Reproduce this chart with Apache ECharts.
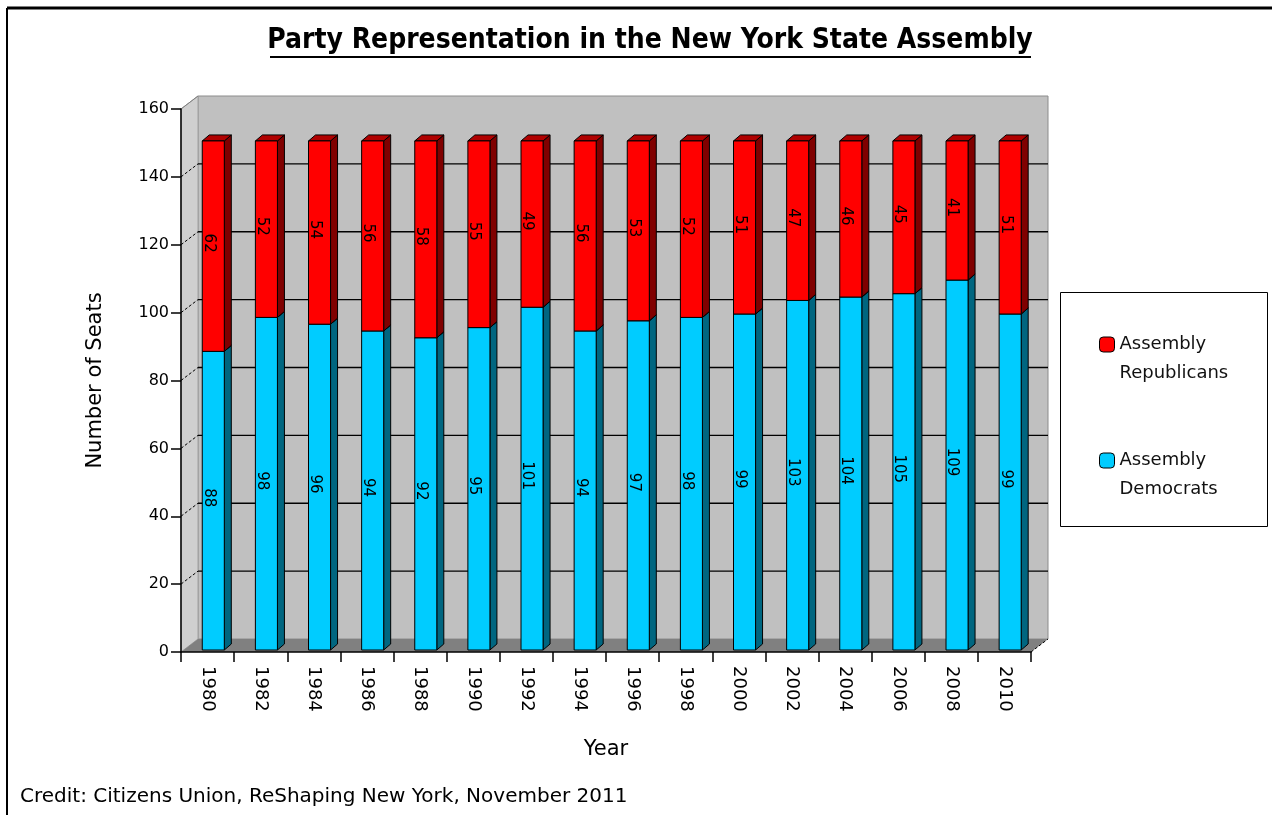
<!DOCTYPE html>
<html>
<head>
<meta charset="utf-8">
<title>Party Representation in the New York State Assembly</title>
<script src="https://cdn.jsdelivr.net/npm/echarts@6/dist/echarts.min.js"></script>
<style>
  html, body { margin: 0; padding: 0; background: #fff; }
  #chart { width: 1272px; height: 815px; }
</style>
</head>
<body>
<div id="chart"></div>
<script>
// Seats held after each election, 1980-2010
const years = ['1980','1982','1984','1986','1988','1990','1992','1994','1996','1998','2000','2002','2004','2006','2008','2010'];
const democrats   = [88, 98, 96, 94, 92, 95, 101, 94, 97, 98, 99, 103, 104, 105, 109, 99];
const republicans = [62, 52, 54, 56, 58, 55, 49, 56, 53, 52, 51, 47, 46, 45, 41, 51];
const yTicks = [0, 20, 40, 60, 80, 100, 120, 140, 160];

const FONT = '"DejaVu Sans", Verdana, sans-serif';
const FONT_NARROW = '"DejaVu Sans Condensed", "DejaVu Sans", sans-serif';

// pseudo-3D offsets
const WALL_DX = 17, WALL_DY = -13;   // back wall relative to the front axes
const BAR_DX = 7, BAR_DY = -6;       // bar depth
const BAR_LIFT = -2;

const chart = echarts.init(document.getElementById('chart'), null, { renderer: 'canvas' });

// walls, floor and gridlines of the chart box
function renderFrame(params, api) {
  const cs = params.coordSys;
  const x0 = cs.x, x1 = cs.x + cs.width;
  const yBot = api.coord([0, yTicks[0]])[1];
  const yTop = api.coord([0, yTicks[yTicks.length - 1]])[1];
  const children = [];
  // back wall
  children.push({ type: 'rect', shape: { x: x0 + WALL_DX, y: yTop + WALL_DY, width: x1 - x0, height: yBot - yTop },
    style: { fill: '#C0C0C0', stroke: '#8C8C8C', lineWidth: 1 } });
  // left wall
  children.push({ type: 'polygon', shape: { points: [[x0, yTop], [x0 + WALL_DX, yTop + WALL_DY], [x0 + WALL_DX, yBot + WALL_DY], [x0, yBot]] },
    style: { fill: '#CFCFCF', stroke: '#A0A0A0', lineWidth: 1 } });
  // floor
  children.push({ type: 'polygon', shape: { points: [[x0, yBot], [x0 + WALL_DX, yBot + WALL_DY], [x1 + WALL_DX, yBot + WALL_DY], [x1, yBot]] },
    style: { fill: '#808080' } });
  // gridlines on the back wall plus the slanted links on the side wall
  yTicks.slice(1, -1).forEach(function (v) {
    const y = api.coord([0, v])[1];
    children.push({ type: 'line', shape: { x1: x0 + WALL_DX, y1: y + WALL_DY, x2: x1 + WALL_DX, y2: y + WALL_DY },
      style: { stroke: '#000', lineWidth: 1.4 } });
    children.push({ type: 'line', shape: { x1: x0, y1: y, x2: x0 + WALL_DX, y2: y + WALL_DY },
      style: { stroke: '#000', lineWidth: 1, lineDash: [3, 2] } });
  });
  // top link of the side wall and right end of the floor
  children.push({ type: 'line', shape: { x1: x0, y1: yTop, x2: x0 + WALL_DX, y2: yTop + WALL_DY },
    style: { stroke: '#808080', lineWidth: 1 } });
  children.push({ type: 'line', shape: { x1: x1, y1: yBot, x2: x1 + WALL_DX, y2: yBot + WALL_DY },
    style: { stroke: '#000', lineWidth: 1, lineDash: [3, 2] } });
  return { type: 'group', children: children };
}

// one stacked block: front face, side face, top face and a rotated value label
function makeBarRenderer(front, side, top) {
  return function (params, api) {
    const i = api.value(0), base = api.value(1), val = api.value(2);
    const pBase = api.coord([i, base]);
    const pTop = api.coord([i, base + val]);
    const cw = api.size([1, 0])[0];
    const xl = pBase[0] - 0.1 * cw;
    const xr = xl + 0.415 * cw;
    const yb = pBase[1] + BAR_LIFT, yt = pTop[1] + BAR_LIFT;
    const edge = { stroke: '#000', lineWidth: 1 };
    return {
      type: 'group',
      children: [
        { type: 'polygon', shape: { points: [[xr, yb], [xr + BAR_DX, yb + BAR_DY], [xr + BAR_DX, yt + BAR_DY], [xr, yt]] },
          style: Object.assign({ fill: side }, edge) },
        { type: 'polygon', shape: { points: [[xl, yt], [xl + BAR_DX, yt + BAR_DY], [xr + BAR_DX, yt + BAR_DY], [xr, yt]] },
          style: Object.assign({ fill: top }, edge) },
        { type: 'rect', shape: { x: xl, y: yt, width: xr - xl, height: yb - yt },
          style: Object.assign({ fill: front }, edge) },
        { type: 'text', x: pBase[0] + 1, y: (yb + yt) / 2 - 3, rotation: -Math.PI / 2,
          style: { text: String(val), fill: '#000', font: '15px ' + FONT, align: 'center', verticalAlign: 'middle' } }
      ]
    };
  };
}

const demData = democrats.map(function (v, i) { return [i, 0, v]; });
const repData = republicans.map(function (v, i) { return [i, democrats[i], v]; });

chart.setOption({
  animation: false,
  backgroundColor: '#ffffff',
  grid: { left: 181, right: 241, top: 109, bottom: 163 },
  xAxis: {
    type: 'category',
    data: years,
    z: 5,
    name: 'Year',
    nameLocation: 'middle',
    nameGap: 87,
    nameTextStyle: { fontFamily: FONT, fontSize: 21, color: '#000' },
    axisLine: { lineStyle: { color: '#000', width: 1.5 } },
    axisTick: { show: true, alignWithLabel: false, length: 10, lineStyle: { color: '#000', width: 1.5 } },
    axisLabel: { rotate: -90, margin: 14, fontFamily: FONT, fontSize: 18, color: '#000', interval: 0 },
    splitLine: { show: false }
  },
  yAxis: {
    type: 'value',
    min: 0, max: 160, interval: 20,
    z: 5,
    name: 'Number of Seats',
    nameLocation: 'middle',
    nameGap: 75,
    nameTextStyle: { fontFamily: FONT, fontSize: 21, color: '#000' },
    axisLine: { show: true, lineStyle: { color: '#000', width: 1.5 } },
    axisTick: { show: true, length: 10, lineStyle: { color: '#000', width: 1.5 } },
    axisLabel: { margin: 12, fontFamily: FONT, fontSize: 16, color: '#000' },
    splitLine: { show: false }
  },
  legend: {
    orient: 'vertical',
    left: 1094, top: 296,
    itemWidth: 15, itemHeight: 15, itemGap: 29,
    icon: 'roundRect',
    selectedMode: false,
    formatter: function (name) { return '\n' + name.replace(' ', '\n'); },
    textStyle: { fontFamily: FONT, fontSize: 18, lineHeight: 29, color: '#111' },
    data: [
      { name: 'Assembly Republicans', itemStyle: { color: '#FF0000', borderColor: '#000', borderWidth: 1 } },
      { name: 'Assembly Democrats', itemStyle: { color: '#00CCFF', borderColor: '#000', borderWidth: 1 } }
    ]
  },
  graphic: [
    // page frame
    { type: 'line', shape: { x1: 7, y1: 8, x2: 1272, y2: 8 }, style: { stroke: '#000', lineWidth: 3 } },
    { type: 'line', shape: { x1: 7, y1: 8, x2: 7, y2: 815 }, style: { stroke: '#000', lineWidth: 2 } },
    // title with underline
    { type: 'text', x: 650, y: 41, style: { text: 'Party Representation in the New York State Assembly',
        font: 'bold 28px ' + FONT_NARROW, fill: '#000', align: 'center', verticalAlign: 'middle' } },
    { type: 'line', shape: { x1: 270, y1: 57, x2: 1031, y2: 57 }, style: { stroke: '#000', lineWidth: 2 } },
    // legend frame
    { type: 'rect', shape: { x: 1060.5, y: 292.5, width: 207, height: 234 }, style: { fill: 'none', stroke: '#000', lineWidth: 1 } },
    // source line
    { type: 'text', x: 20, y: 797, style: { text: 'Credit: Citizens Union, ReShaping New York, November 2011',
        font: '20px ' + FONT, fill: '#000', align: 'left', verticalAlign: 'middle' } }
  ],
  series: [
    { name: 'frame', type: 'custom', z: 1, silent: true, renderItem: renderFrame, data: [[0, 0]], encode: { x: 0, y: 1 } },
    { name: 'Assembly Democrats', type: 'custom', z: 2, itemStyle: { color: '#00CCFF' },
      renderItem: makeBarRenderer('#00CCFF', '#006680', '#00A3CC'), data: demData, encode: { x: 0, y: 2 } },
    { name: 'Assembly Republicans', type: 'custom', z: 3, itemStyle: { color: '#FF0000' },
      renderItem: makeBarRenderer('#FF0000', '#800000', '#B00000'), data: repData, encode: { x: 0, y: 2 } }
  ]
});
</script>
</body>
</html>
